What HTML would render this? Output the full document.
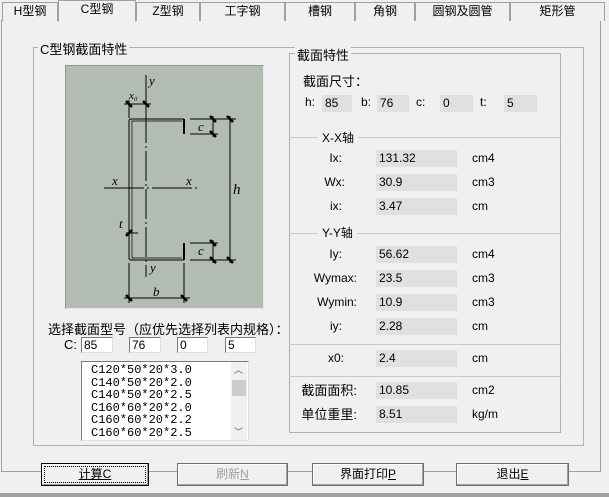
<!DOCTYPE html>
<html><head><meta charset="utf-8"><style>
*{margin:0;padding:0;box-sizing:border-box}
body{width:609px;height:497px;background:#f0f0f0;position:relative;overflow:hidden;font-family:"Liberation Sans","Noto Sans CJK SC",sans-serif;font-size:12px;color:#000}
.a{position:absolute}
.tab{position:absolute;top:2px;height:19px;border:1px solid #a0a0a0;border-bottom:none;background:#f0f0f0;text-align:center;line-height:17px;font-size:12px}
.val{position:absolute;background:#e0e0e0;height:17px;line-height:17px;padding-left:3px;font-size:12px}
.lbl{position:absolute;text-align:right;width:60px;line-height:17px}
.unit{position:absolute;left:472px;line-height:17px}
.inp{position:absolute;top:337px;height:16px;background:#fff;border:1px solid #7a7a7a;border-right-color:#e0e0e0;border-bottom-color:#e0e0e0;padding-left:2px;line-height:14px}
.btn{position:absolute;top:463px;height:23px;border:1px solid #707070;background:#f0f0f0;text-align:center;line-height:21px;box-shadow:inset -1px -1px #a0a0a0,inset 1px 1px #fff}
.gline{position:absolute;height:1px;background:#c8c8c8}
</style></head><body>
<div class="a" style="left:1px;top:20px;width:600px;height:452px;border:1px solid #a0a0a0;background:#f0f0f0"></div>
<div class="tab" style="left:2px;width:56px">H型钢</div>
<div class="tab" style="left:58px;top:0;height:22px;width:78px;border-bottom:1px solid #f0f0f0;z-index:2">C型钢</div>
<div class="tab" style="left:136px;width:64px">Z型钢</div>
<div class="tab" style="left:200px;width:85px">工字钢</div>
<div class="tab" style="left:285px;width:70px">槽钢</div>
<div class="tab" style="left:355px;width:60px">角钢</div>
<div class="tab" style="left:415px;width:95px">圆钢及圆管</div>
<div class="tab" style="left:510px;width:95px">矩形管</div>

<div class="a" style="left:33px;top:47px;width:551px;height:399px;border:1px solid #b0b0b0"></div>
<div class="a" style="left:38px;top:39px;background:#f0f0f0;padding:0 2px;font-size:13px">C型钢截面特性</div>

<div class="a" style="left:65px;top:65px;width:199px;height:244px;background:#b3bcb2;border:1px solid #909890;border-right-color:#e8e8e8;border-bottom-color:#e8e8e8"></div>
<svg class="a" style="left:0;top:0" width="609" height="497">
<g stroke="#000" fill="none" stroke-width="1">
<path d="M184 119 H131 Q129 119 129 121 V258 Q129 260 131 260 H184"/>
<path d="M182 121 H132 V258 H182" stroke-width="0.7"/>
<path d="M184 119 V134 M184 243 V260" stroke-width="2"/>
<path d="M146 75 V277" stroke-dasharray="30 3 2 3"/>
<path d="M104 188 H200" stroke-dasharray="40 3 2 3"/>
<path d="M190 119 H236 M190 134 H218 M190 243 H218 M190 260 H236"/>
<path d="M230 116 V263 M213 116 V137 M213 240 V263"/>
<path d="M129 263 V303 M184 263 V303 M124 298 H190"/>
<path d="M129 100 V118 M146 100 V118 M124 104 H151"/>
<path d="M126 233 H138"/>
</g>
<g stroke="#000" stroke-width="2.5">
<path d="M227 116 L233 122 M227 257 L233 263 M210 116 L216 122 M210 131 L216 137 M210 240 L216 246 M210 257 L216 263 M126 295 L132 301 M181 295 L187 301 M126 101 L132 107 M143 101 L149 107 M126 236 L132 230"/>
</g>
<g font-family="Liberation Serif,serif" font-style="italic" font-size="13">
<text x="149" y="85">y</text><text x="129" y="99" font-size="11">x₀</text>
<text x="198" y="131">c</text><text x="198" y="255">c</text>
<text x="233" y="194" font-size="15">h</text>
<text x="112" y="185">x</text><text x="186" y="185">x</text>
<text x="119" y="228">t</text><text x="150" y="272">y</text><text x="153" y="296">b</text>
</g>
</svg>

<div class="a" style="left:48px;top:319px;font-size:13px">选择截面型号（应优先选择列表内规格）：</div>
<div class="a" style="left:64px;top:337px;font-size:13px">C:</div>
<div class="inp" style="left:81px;width:32px">85</div>
<div class="inp" style="left:129px;width:32px">76</div>
<div class="inp" style="left:177px;width:31px">0</div>
<div class="inp" style="left:225px;width:31px">5</div>
<div class="a" style="left:81px;top:361px;width:168px;height:80px;background:#fff;border:1px solid #7a7a7a;border-right-color:#e0e0e0;border-bottom-color:#e0e0e0;font-family:'Liberation Mono',monospace;font-size:12px;line-height:12.5px;padding:2px 0 0 9px;overflow:hidden">C120*50*20*3.0<br>C140*50*20*2.0<br>C140*50*20*2.5<br>C160*60*20*2.0<br>C160*60*20*2.2<br>C160*60*20*2.5</div>
<div class="a" style="left:231px;top:362px;width:16px;height:78px;background:#f0f0f0"></div>
<div class="a" style="left:232px;top:380px;width:14px;height:16px;background:#cdcdcd"></div>
<div class="a" style="left:234px;top:363px;font-size:9px;color:#555">︿</div>
<div class="a" style="left:234px;top:425px;font-size:9px;color:#555">﹀</div>

<div class="a" style="left:289px;top:53px;width:272px;height:380px;border:1px solid #b0b0b0"></div>
<div class="a" style="left:295px;top:45px;background:#f0f0f0;padding:0 2px;font-size:13px">截面特性</div>
<div class="a" style="left:303px;top:71px;font-size:13px">截面尺寸：</div>
<div class="a" style="left:305px;top:95px">h:</div><div class="val" style="left:322px;top:95px;width:30px">85</div>
<div class="a" style="left:361px;top:95px">b:</div><div class="val" style="left:377px;top:95px;width:32px">76</div>
<div class="a" style="left:416px;top:95px">c:</div><div class="val" style="left:440px;top:95px;width:33px">0</div>
<div class="a" style="left:480px;top:95px">t:</div><div class="val" style="left:504px;top:95px;width:33px">5</div>

<div class="gline" style="left:289px;top:137px;width:272px"></div>
<div class="a" style="left:318px;top:129px;background:#f0f0f0;padding:0 4px">X-X轴</div>
<div class="gline" style="left:289px;top:233px;width:272px"></div>
<div class="a" style="left:318px;top:224px;background:#f0f0f0;padding:0 4px">Y-Y轴</div>
<div class="gline" style="left:289px;top:344px;width:272px"></div>
<div class="gline" style="left:289px;top:376px;width:272px"></div>

<div class="lbl" style="left:297px;top:150px;width:45px">Ix:</div><div class="val" style="left:376px;top:150px;width:81px">131.32</div><div class="unit" style="top:150px">cm4</div>
<div class="lbl" style="left:297px;top:174px;width:48px">Wx:</div><div class="val" style="left:376px;top:174px;width:81px">30.9</div><div class="unit" style="top:174px">cm3</div>
<div class="lbl" style="left:297px;top:198px;width:45px">ix:</div><div class="val" style="left:376px;top:198px;width:81px">3.47</div><div class="unit" style="top:198px">cm</div>
<div class="lbl" style="left:297px;top:246px;width:45px">Iy:</div><div class="val" style="left:376px;top:246px;width:81px">56.62</div><div class="unit" style="top:246px">cm4</div>
<div class="lbl" style="left:297px;top:270px;width:60px">Wymax:</div><div class="val" style="left:376px;top:270px;width:81px">23.5</div><div class="unit" style="top:270px">cm3</div>
<div class="lbl" style="left:297px;top:294px;width:60px">Wymin:</div><div class="val" style="left:376px;top:294px;width:81px">10.9</div><div class="unit" style="top:294px">cm3</div>
<div class="lbl" style="left:297px;top:318px;width:45px">iy:</div><div class="val" style="left:376px;top:318px;width:81px">2.28</div><div class="unit" style="top:318px">cm</div>
<div class="lbl" style="left:297px;top:350px;width:47px">x0:</div><div class="val" style="left:376px;top:350px;width:81px">2.4</div><div class="unit" style="top:350px">cm</div>
<div class="lbl" style="left:297px;top:382px;width:60px;font-size:13px">截面面积:</div><div class="val" style="left:376px;top:382px;width:81px">10.85</div><div class="unit" style="top:382px">cm2</div>
<div class="lbl" style="left:297px;top:406px;width:60px;font-size:13px">单位重里:</div><div class="val" style="left:376px;top:406px;width:81px">8.51</div><div class="unit" style="top:406px">kg/m</div>

<div class="btn" style="left:41px;width:108px;outline:1px dotted #000;outline-offset:-4px;border-color:#000"><u>计算C</u></div>
<div class="btn" style="left:177px;width:111px;color:#a0a0a0">刷新<u>N</u></div>
<div class="btn" style="left:312px;width:112px">界面打印<u>P</u></div>
<div class="btn" style="left:456px;width:113px">退出<u>E</u></div>
<div class="a" style="left:0;top:493px;width:609px;height:4px;background:#a0a0a0"></div>
</body></html>
